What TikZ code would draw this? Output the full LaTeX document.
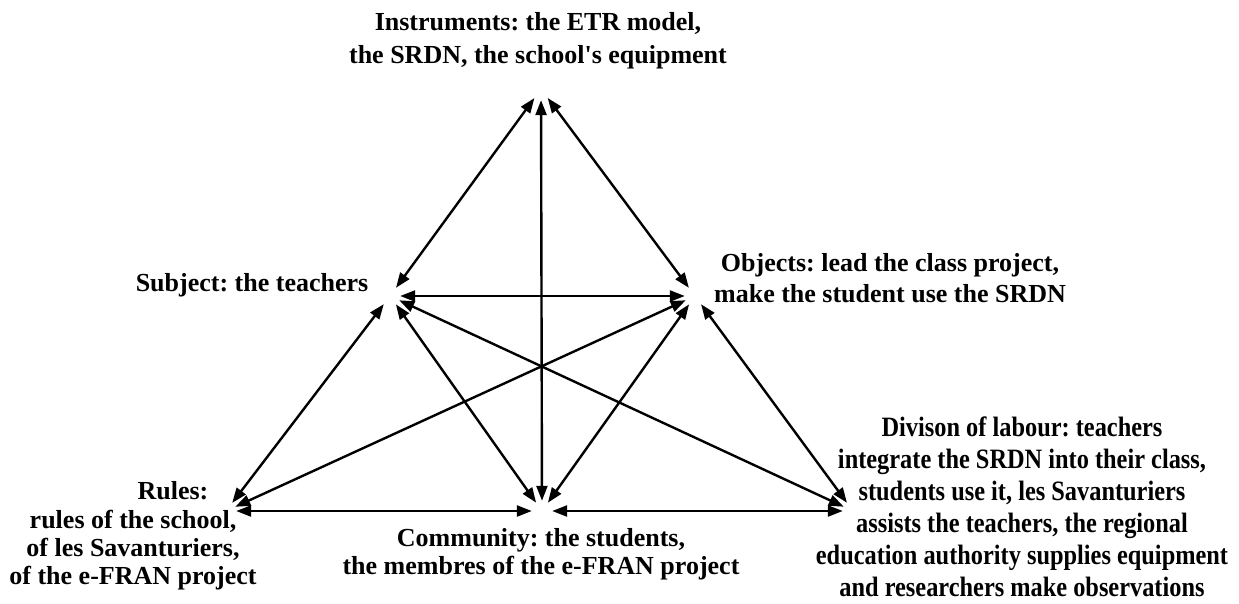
\documentclass[tikz,border=0pt]{standalone}
\usepackage{fontspec}
\setmainfont{Liberation Serif}
\newfontfamily\condfont{Liberation Serif}[FakeStretch=0.87]
\usetikzlibrary{arrows.meta}
\frenchspacing
\begin{document}
\begin{tikzpicture}[x=1pt,y=-1pt,
  vtx/.style={circle,inner sep=0pt,minimum size=20pt},
  link/.style={{Triangle[length=15pt,width=11pt]}-{Triangle[length=15pt,width=11pt]},line width=2.4pt},
  lbl/.style={font=\bfseries\fontsize{26}{30}\selectfont,align=center,inner sep=0pt}]
\useasboundingbox (0,0) rectangle (1239,603);
% vertices
\node[vtx,minimum size=22pt] (I) at (541,89) {};
\node[vtx] (S) at (390,296) {};
\node[vtx] (O) at (695,296) {};
\node[vtx] (R) at (226,511) {};
\node[vtx] (C) at (542,511) {};
\node[vtx] (D) at (853,511) {};
% labels
\node[lbl,font=\bfseries\fontsize{26}{33}\selectfont] (tI) at (538,41) {Instruments: the ETR model,\\the SRDN, the school\textquotesingle s equipment};
\node[lbl] (tS) at (252,285) {Subject: the teachers};
\node[lbl,font=\bfseries\fontsize{26}{31}\selectfont] (tO) at (890,278) {Objects: lead the class project,\\make the student use the SRDN};
\node[lbl,font=\bfseries\fontsize{26}{28.3}\selectfont] (tR) at (133,536) {\hspace*{80pt}Rules:\\rules of the school,\\of les Savanturiers,\\of the e-FRAN project};
\node[lbl,font=\bfseries\fontsize{26}{28}\selectfont] (tC) at (541,554) {Community: the students,\\the membres of the e-FRAN project};
\node[lbl,font=\condfont\bfseries\fontsize{28}{32}\selectfont] (tD) at (1022,507) {Divison of labour: teachers\\integrate the SRDN into their class,\\students use it, les Savanturiers\\assists the teachers, the regional\\education authority supplies equipment\\and researchers make observations};
% connectors
\draw[link] (I) -- (S);
\draw[link] (I) -- (O);
\draw[link] (I) -- (C);
\draw[link] (S) -- (O);
\draw[link] (S) -- (R);
\draw[link] (S) -- (C);
\draw[link] (S) -- (D);
\draw[link] (O) -- (R);
\draw[link] (O) -- (C);
\draw[link] (O) -- (D);
\draw[link] (R) -- (C);
\draw[link] (C) -- (D);
\end{tikzpicture}
\end{document}
